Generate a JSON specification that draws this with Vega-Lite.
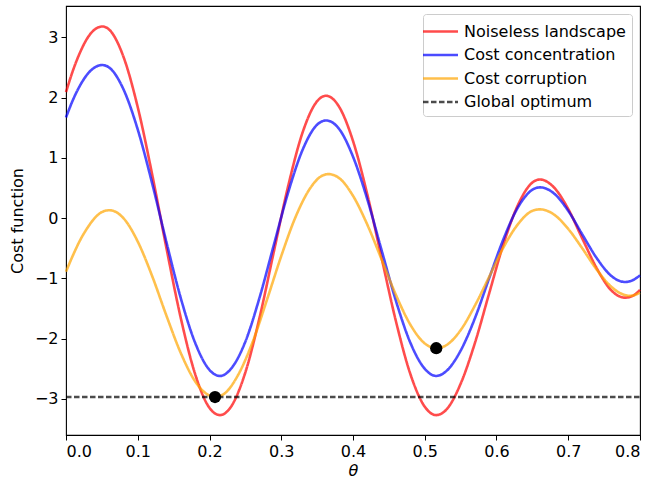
{
  "$schema": "https://vega.github.io/schema/vega-lite/v6.json",
  "width": 574,
  "height": 429,
  "autosize": {"type": "none"},
  "padding": {"left": 66, "top": 6, "right": 16, "bottom": 46},
  "config": {
    "font": "DejaVu Sans",
    "view": {"stroke": "#000000", "strokeWidth": 1.1},
    "axis": {
      "grid": false,
      "domain": false,
      "tickColor": "#000000",
      "tickSize": 5,
      "tickWidth": 1,
      "labelColor": "#000000",
      "labelFontSize": 16,
      "labelPadding": 3,
      "titleColor": "#000000",
      "titleFontSize": 16,
      "titleFontWeight": "normal"
    },
    "legend": {
      "orient": "top-right",
      "offset": 8,
      "padding": 6,
      "fillColor": "#ffffff",
      "strokeColor": "#cccccc",
      "cornerRadius": 3,
      "labelFontSize": 16,
      "labelColor": "#000000",
      "labelOffset": 12,
      "labelLimit": 300,
      "rowPadding": 3.5,
      "symbolType": "M-1.75,0H1.75",
      "symbolSize": 400
    }
  },
  "datasets": {
    "curves": [
      {"s": "Noiseless landscape", "t": 0, "v": 2.09},
      {"s": "Noiseless landscape", "t": 0.01, "v": 2.46},
      {"s": "Noiseless landscape", "t": 0.02, "v": 2.76},
      {"s": "Noiseless landscape", "t": 0.03, "v": 2.99},
      {"s": "Noiseless landscape", "t": 0.04, "v": 3.13},
      {"s": "Noiseless landscape", "t": 0.0506, "v": 3.18},
      {"s": "Noiseless landscape", "t": 0.06, "v": 3.13},
      {"s": "Noiseless landscape", "t": 0.08, "v": 2.68},
      {"s": "Noiseless landscape", "t": 0.10, "v": 1.84},
      {"s": "Noiseless landscape", "t": 0.12, "v": 0.73},
      {"s": "Noiseless landscape", "t": 0.14, "v": -0.50},
      {"s": "Noiseless landscape", "t": 0.16, "v": -1.66},
      {"s": "Noiseless landscape", "t": 0.18, "v": -2.59},
      {"s": "Noiseless landscape", "t": 0.20, "v": -3.15},
      {"s": "Noiseless landscape", "t": 0.2146, "v": -3.27},
      {"s": "Noiseless landscape", "t": 0.23, "v": -3.13},
      {"s": "Noiseless landscape", "t": 0.25, "v": -2.56},
      {"s": "Noiseless landscape", "t": 0.27, "v": -1.64},
      {"s": "Noiseless landscape", "t": 0.29, "v": -0.54},
      {"s": "Noiseless landscape", "t": 0.31, "v": 0.55},
      {"s": "Noiseless landscape", "t": 0.33, "v": 1.43},
      {"s": "Noiseless landscape", "t": 0.35, "v": 1.94},
      {"s": "Noiseless landscape", "t": 0.3624, "v": 2.03},
      {"s": "Noiseless landscape", "t": 0.38, "v": 1.86},
      {"s": "Noiseless landscape", "t": 0.40, "v": 1.28},
      {"s": "Noiseless landscape", "t": 0.42, "v": 0.39},
      {"s": "Noiseless landscape", "t": 0.44, "v": -0.67},
      {"s": "Noiseless landscape", "t": 0.46, "v": -1.72},
      {"s": "Noiseless landscape", "t": 0.48, "v": -2.59},
      {"s": "Noiseless landscape", "t": 0.50, "v": -3.13},
      {"s": "Noiseless landscape", "t": 0.5157, "v": -3.27},
      {"s": "Noiseless landscape", "t": 0.53, "v": -3.18},
      {"s": "Noiseless landscape", "t": 0.55, "v": -2.75},
      {"s": "Noiseless landscape", "t": 0.57, "v": -2.07},
      {"s": "Noiseless landscape", "t": 0.59, "v": -1.24},
      {"s": "Noiseless landscape", "t": 0.61, "v": -0.42},
      {"s": "Noiseless landscape", "t": 0.63, "v": 0.22},
      {"s": "Noiseless landscape", "t": 0.65, "v": 0.59},
      {"s": "Noiseless landscape", "t": 0.6606, "v": 0.64},
      {"s": "Noiseless landscape", "t": 0.68, "v": 0.51},
      {"s": "Noiseless landscape", "t": 0.70, "v": 0.15},
      {"s": "Noiseless landscape", "t": 0.72, "v": -0.35},
      {"s": "Noiseless landscape", "t": 0.74, "v": -0.84},
      {"s": "Noiseless landscape", "t": 0.76, "v": -1.20},
      {"s": "Noiseless landscape", "t": 0.779, "v": -1.32},
      {"s": "Noiseless landscape", "t": 0.79, "v": -1.29},
      {"s": "Noiseless landscape", "t": 0.80, "v": -1.19},

      {"s": "Cost concentration", "t": 0, "v": 1.67},
      {"s": "Cost concentration", "t": 0.01, "v": 1.97},
      {"s": "Cost concentration", "t": 0.02, "v": 2.21},
      {"s": "Cost concentration", "t": 0.03, "v": 2.39},
      {"s": "Cost concentration", "t": 0.04, "v": 2.50},
      {"s": "Cost concentration", "t": 0.0506, "v": 2.54},
      {"s": "Cost concentration", "t": 0.06, "v": 2.50},
      {"s": "Cost concentration", "t": 0.08, "v": 2.14},
      {"s": "Cost concentration", "t": 0.10, "v": 1.47},
      {"s": "Cost concentration", "t": 0.12, "v": 0.58},
      {"s": "Cost concentration", "t": 0.14, "v": -0.40},
      {"s": "Cost concentration", "t": 0.16, "v": -1.33},
      {"s": "Cost concentration", "t": 0.18, "v": -2.07},
      {"s": "Cost concentration", "t": 0.20, "v": -2.52},
      {"s": "Cost concentration", "t": 0.2146, "v": -2.62},
      {"s": "Cost concentration", "t": 0.23, "v": -2.50},
      {"s": "Cost concentration", "t": 0.25, "v": -2.05},
      {"s": "Cost concentration", "t": 0.27, "v": -1.31},
      {"s": "Cost concentration", "t": 0.29, "v": -0.43},
      {"s": "Cost concentration", "t": 0.31, "v": 0.44},
      {"s": "Cost concentration", "t": 0.33, "v": 1.14},
      {"s": "Cost concentration", "t": 0.35, "v": 1.55},
      {"s": "Cost concentration", "t": 0.3624, "v": 1.62},
      {"s": "Cost concentration", "t": 0.38, "v": 1.49},
      {"s": "Cost concentration", "t": 0.40, "v": 1.02},
      {"s": "Cost concentration", "t": 0.42, "v": 0.31},
      {"s": "Cost concentration", "t": 0.44, "v": -0.54},
      {"s": "Cost concentration", "t": 0.46, "v": -1.38},
      {"s": "Cost concentration", "t": 0.48, "v": -2.07},
      {"s": "Cost concentration", "t": 0.50, "v": -2.50},
      {"s": "Cost concentration", "t": 0.5157, "v": -2.62},
      {"s": "Cost concentration", "t": 0.53, "v": -2.54},
      {"s": "Cost concentration", "t": 0.55, "v": -2.20},
      {"s": "Cost concentration", "t": 0.57, "v": -1.66},
      {"s": "Cost concentration", "t": 0.59, "v": -0.99},
      {"s": "Cost concentration", "t": 0.61, "v": -0.34},
      {"s": "Cost concentration", "t": 0.63, "v": 0.18},
      {"s": "Cost concentration", "t": 0.65, "v": 0.47},
      {"s": "Cost concentration", "t": 0.6606, "v": 0.51},
      {"s": "Cost concentration", "t": 0.68, "v": 0.41},
      {"s": "Cost concentration", "t": 0.70, "v": 0.12},
      {"s": "Cost concentration", "t": 0.72, "v": -0.28},
      {"s": "Cost concentration", "t": 0.74, "v": -0.67},
      {"s": "Cost concentration", "t": 0.76, "v": -0.96},
      {"s": "Cost concentration", "t": 0.779, "v": -1.06},
      {"s": "Cost concentration", "t": 0.79, "v": -1.03},
      {"s": "Cost concentration", "t": 0.80, "v": -0.95},

      {"s": "Cost corruption", "t": 0, "v": -0.89},
      {"s": "Cost corruption", "t": 0.01, "v": -0.61},
      {"s": "Cost corruption", "t": 0.02, "v": -0.36},
      {"s": "Cost corruption", "t": 0.03, "v": -0.16},
      {"s": "Cost corruption", "t": 0.04, "v": 0.00},
      {"s": "Cost corruption", "t": 0.05, "v": 0.10},
      {"s": "Cost corruption", "t": 0.0604, "v": 0.13},
      {"s": "Cost corruption", "t": 0.08, "v": 0.00},
      {"s": "Cost corruption", "t": 0.10, "v": -0.39},
      {"s": "Cost corruption", "t": 0.12, "v": -0.96},
      {"s": "Cost corruption", "t": 0.14, "v": -1.62},
      {"s": "Cost corruption", "t": 0.16, "v": -2.24},
      {"s": "Cost corruption", "t": 0.18, "v": -2.71},
      {"s": "Cost corruption", "t": 0.195, "v": -2.91},
      {"s": "Cost corruption", "t": 0.2077, "v": -2.97},
      {"s": "Cost corruption", "t": 0.22, "v": -2.92},
      {"s": "Cost corruption", "t": 0.24, "v": -2.60},
      {"s": "Cost corruption", "t": 0.26, "v": -2.06},
      {"s": "Cost corruption", "t": 0.28, "v": -1.36},
      {"s": "Cost corruption", "t": 0.30, "v": -0.63},
      {"s": "Cost corruption", "t": 0.32, "v": 0.02},
      {"s": "Cost corruption", "t": 0.34, "v": 0.49},
      {"s": "Cost corruption", "t": 0.355, "v": 0.69},
      {"s": "Cost corruption", "t": 0.3656, "v": 0.73},
      {"s": "Cost corruption", "t": 0.38, "v": 0.67},
      {"s": "Cost corruption", "t": 0.40, "v": 0.37},
      {"s": "Cost corruption", "t": 0.42, "v": -0.11},
      {"s": "Cost corruption", "t": 0.44, "v": -0.69},
      {"s": "Cost corruption", "t": 0.46, "v": -1.28},
      {"s": "Cost corruption", "t": 0.48, "v": -1.77},
      {"s": "Cost corruption", "t": 0.50, "v": -2.08},
      {"s": "Cost corruption", "t": 0.516, "v": -2.16},
      {"s": "Cost corruption", "t": 0.53, "v": -2.11},
      {"s": "Cost corruption", "t": 0.55, "v": -1.86},
      {"s": "Cost corruption", "t": 0.57, "v": -1.45},
      {"s": "Cost corruption", "t": 0.59, "v": -0.97},
      {"s": "Cost corruption", "t": 0.61, "v": -0.48},
      {"s": "Cost corruption", "t": 0.63, "v": -0.10},
      {"s": "Cost corruption", "t": 0.65, "v": 0.12},
      {"s": "Cost corruption", "t": 0.6606, "v": 0.145},
      {"s": "Cost corruption", "t": 0.68, "v": 0.06},
      {"s": "Cost corruption", "t": 0.70, "v": -0.18},
      {"s": "Cost corruption", "t": 0.72, "v": -0.51},
      {"s": "Cost corruption", "t": 0.74, "v": -0.86},
      {"s": "Cost corruption", "t": 0.76, "v": -1.14},
      {"s": "Cost corruption", "t": 0.775, "v": -1.26},
      {"s": "Cost corruption", "t": 0.786, "v": -1.29},
      {"s": "Cost corruption", "t": 0.80, "v": -1.24}
    ],
    "optimum": [
      {"s": "Global optimum", "t": 0, "v": -2.97},
      {"s": "Global optimum", "t": 0.8, "v": -2.97}
    ],
    "points": [
      {"t": 0.2077, "v": -2.97},
      {"t": 0.516, "v": -2.16}
    ]
  },
  "encoding": {
    "x": {
      "field": "t", "type": "quantitative",
      "scale": {"domain": [0, 0.8], "nice": false, "zero": false},
      "axis": {"values": [0, 0.1, 0.2, 0.3, 0.4, 0.5, 0.6, 0.7, 0.8], "format": ".1f", "title": "θ", "titleFontStyle": "italic", "titlePadding": 3}
    },
    "y": {
      "field": "v", "type": "quantitative",
      "scale": {"domain": [-3.6, 3.52], "nice": false, "zero": false},
      "axis": {"values": [-3, -2, -1, 0, 1, 2, 3], "labelExpr": "replace(datum.label, '-', '−')", "title": "Cost function", "titlePadding": 9}
    }
  },
  "layer": [
    {
      "data": {"name": "curves"},
      "mark": {"type": "line", "interpolate": "monotone"},
      "encoding": {
        "color": {
          "field": "s", "type": "nominal",
          "scale": {
            "domain": ["Noiseless landscape", "Cost concentration", "Cost corruption", "Global optimum"],
            "range": ["#ff0000", "#0000ff", "#ffa500", "#000000"]
          },
          "legend": {"title": null}
        },
        "strokeDash": {
          "field": "s", "type": "nominal",
          "scale": {
            "domain": ["Noiseless landscape", "Cost concentration", "Cost corruption", "Global optimum"],
            "range": [[1, 0], [1, 0], [1, 0], [5.5, 2.5]]
          },
          "legend": {"title": null}
        },
        "opacity": {
          "field": "s", "type": "nominal",
          "scale": {
            "domain": ["Noiseless landscape", "Cost concentration", "Cost corruption", "Global optimum"],
            "range": [0.7, 0.7, 0.7, 1]
          },
          "legend": {"title": null}
        },
        "strokeWidth": {
          "field": "s", "type": "nominal",
          "scale": {
            "domain": ["Noiseless landscape", "Cost concentration", "Cost corruption", "Global optimum"],
            "range": [2.6, 2.6, 2.6, 1.5]
          },
          "legend": {"title": null}
        }
      }
    },
    {
      "data": {"name": "optimum"},
      "mark": {"type": "line"},
      "encoding": {
        "color": {"field": "s", "type": "nominal", "legend": {"title": null}},
        "strokeDash": {"field": "s", "type": "nominal", "legend": {"title": null}},
        "opacity": {"field": "s", "type": "nominal", "legend": {"title": null}},
        "strokeWidth": {"field": "s", "type": "nominal", "legend": {"title": null}}
      }
    },
    {
      "data": {"name": "points"},
      "mark": {"type": "circle", "size": 150, "color": "#000000", "opacity": 1},
      "encoding": {}
    }
  ]
}
